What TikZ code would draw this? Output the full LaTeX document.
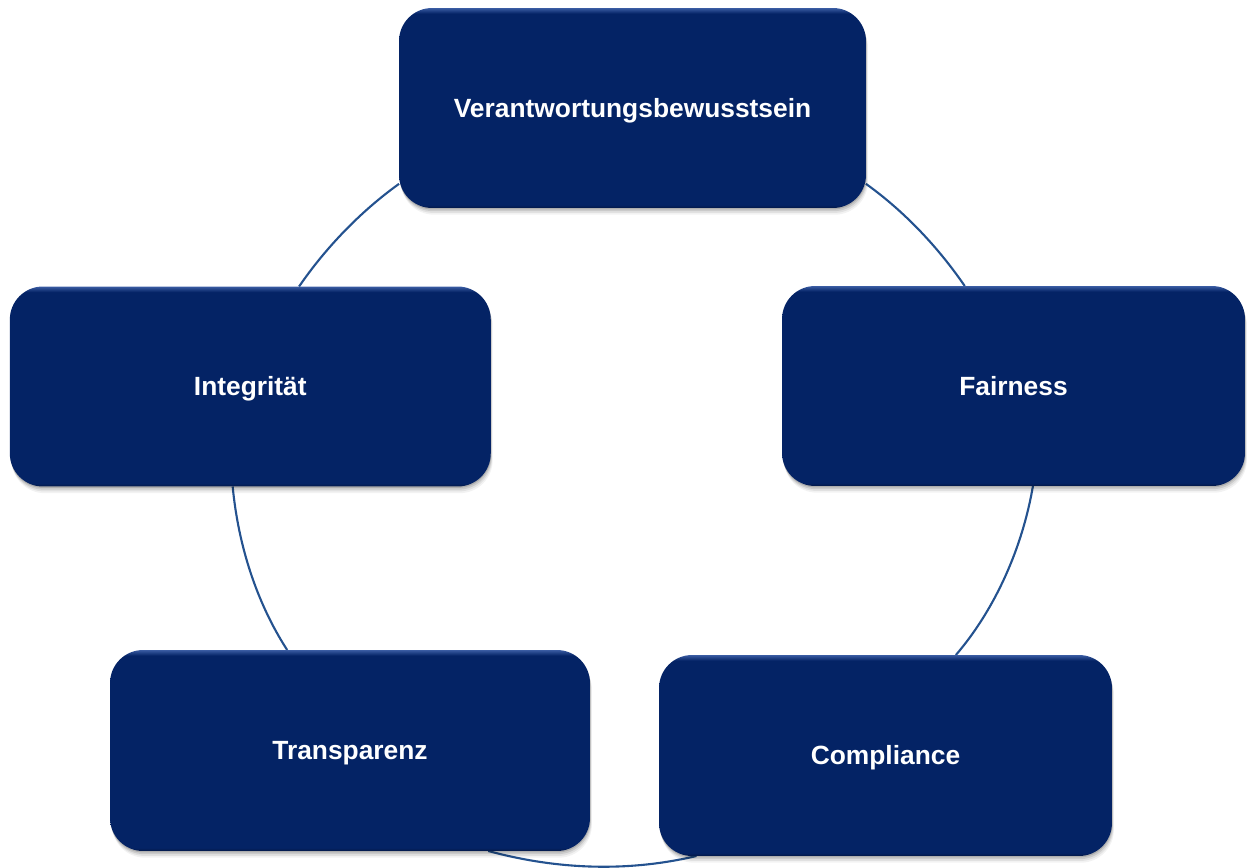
\documentclass[tikz,border=0pt]{standalone}
\usepackage{fontspec}
\setmainfont{Liberation Sans}
\usetikzlibrary{shadows,backgrounds}
\definecolor{navy}{HTML}{042365}
\definecolor{navyL}{HTML}{3A5CA3}
\definecolor{navyD}{HTML}{031847}
\definecolor{conncol}{HTML}{24528F}
\pgfdeclareverticalshading{boxshade}{100bp}{color(0bp)=(navyD); color(25bp)=(navyD); color(25.8bp)=(navy); color(73.6bp)=(navy); color(75bp)=(navyL); color(100bp)=(navyL)}
\tikzset{
  cyclebox/.style={rectangle, rounded corners=0.66cm, shading=boxshade,
    inner sep=0pt, outer sep=0pt, minimum height=4cm,
    text height=10.7pt, text depth=0pt,
    text=white, font=\bfseries\fontsize{15pt}{18pt}\selectfont,
    drop shadow={shadow xshift=0.2pt,shadow yshift=-0.8pt,opacity=0.14,fill=black},
    drop shadow={shadow xshift=0.5pt,shadow yshift=-1.8pt,opacity=0.10,fill=black},
    drop shadow={shadow xshift=0.8pt,shadow yshift=-2.8pt,opacity=0.07,fill=black},
    drop shadow={shadow xshift=1.1pt,shadow yshift=-3.8pt,opacity=0.05,fill=black}},
  conn/.style={draw=conncol, line width=1.2pt}
}
\begin{document}
\begin{tikzpicture}[x=0.02cm,y=0.02cm]
\useasboundingbox (0,0) rectangle (1250,867);
\node[cyclebox, minimum width=9.34cm] (top) at (632.5,759) {Verantwortungsbewusstsein};
\node[cyclebox, minimum width=9.62cm] (left) at (250.3,480.5) {Integrität};
\node[cyclebox, minimum width=9.26cm] (right) at (1013.5,481) {Fairness};
\node[cyclebox, minimum width=9.6cm, minimum height=4.02cm] (transp) at (350,116.5) {Transparenz};
\node[cyclebox, minimum width=9.06cm, minimum height=4.02cm] (compl) at (885.5,111.5) {Compliance};
\begin{pgfonlayer}{background}
\draw[conn] (top.198) .. controls +(215.6:47) and +(55.6:47) .. (left.64);
\draw[conn] (top.342) .. controls +(324.4:47) and +(124.4:47) .. (right.116);
\draw[conn] (left.260) .. controls +(275.4:57.6) and +(122.9:57.6) .. (transp.122);
\draw[conn] (transp.324) .. controls +(344.8:70.9) and +(193.3:70.9) .. (compl.208);
\draw[conn] (compl.55) .. controls +(49.4:61.5) and +(260.3:61.5) .. (right.281);
\end{pgfonlayer}
\end{tikzpicture}
\end{document}
